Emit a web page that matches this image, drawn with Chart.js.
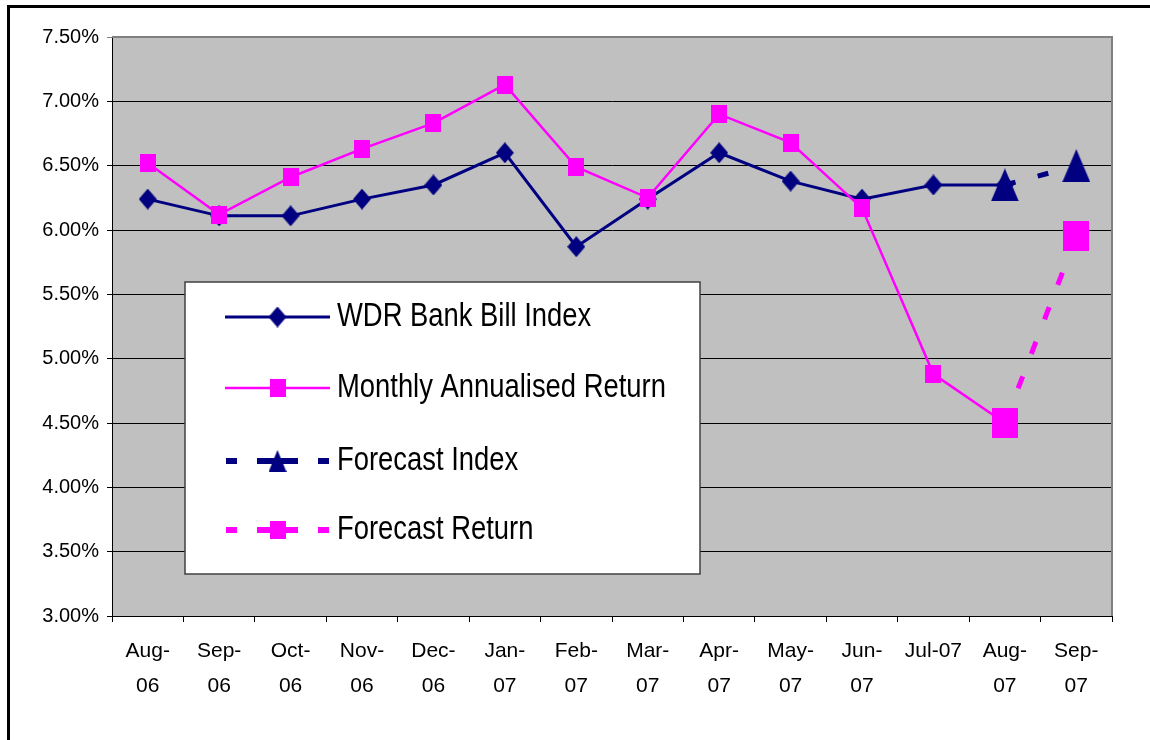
<!DOCTYPE html>
<html>
<head>
<meta charset="utf-8">
<script src="https://cdn.jsdelivr.net/npm/chart.js@4.4.1/dist/chart.umd.min.js"></script>
<style>
html,body{margin:0;padding:0;background:#fff;}
canvas{display:block;}
</style>
</head>
<body>
<canvas id="c" width="1150" height="740"></canvas>
<script>
// ---------- data ----------
const categories = ['Aug-06','Sep-06','Oct-06','Nov-06','Dec-06','Jan-07','Feb-07','Mar-07','Apr-07','May-07','Jun-07','Jul-07','Aug-07','Sep-07'];
const tickLabels = [['Aug-','06'],['Sep-','06'],['Oct-','06'],['Nov-','06'],['Dec-','06'],['Jan-','07'],['Feb-','07'],['Mar-','07'],['Apr-','07'],['May-','07'],['Jun-','07'],'Jul-07',['Aug-','07'],['Sep-','07']];
const wdrIndex       = [6.24, 6.11, 6.11, 6.24, 6.35, 6.60, 5.87, 6.24, 6.60, 6.38, 6.24, 6.35, 6.35, null];
const monthlyReturn  = [6.52, 6.12, 6.41, 6.63, 6.83, 7.13, 6.49, 6.25, 6.90, 6.68, 6.17, 4.88, 4.50, null];
const forecastIndex  = [null, null, null, null, null, null, null, null, null, null, null, null, 6.35, 6.50];
const forecastReturn = [null, null, null, null, null, null, null, null, null, null, null, null, 4.50, 5.95];
const seriesNames = ['WDR Bank Bill Index','Monthly Annualised Return','Forecast Index','Forecast Return'];
const yMin = 3.0, yMax = 7.5, yStep = 0.5;

// ---------- fonts ----------
const FAMILY = '"Liberation Sans", Arial, sans-serif';
const Y_SIZE = 20;
const X_SIZE = 21;
const LEG_SIZE = 33;
const LEG_SQUEEZE = 0.83;

// ---------- colours / markers ----------
const NAVY = '#000080', PINK = '#FF00FF';
function marker(shape, w, h, color){
  const c = document.createElement('canvas'); c.width = w; c.height = h;
  const g = c.getContext('2d'); g.fillStyle = color; g.beginPath();
  if (shape === 'diamond'){ g.moveTo(w/2,0); g.lineTo(w,h/2); g.lineTo(w/2,h); g.lineTo(0,h/2); }
  else if (shape === 'square'){ g.rect(0,0,w,h); }
  else { g.moveTo(w/2,0); g.lineTo(w,h); g.lineTo(0,h); }
  g.closePath(); g.fill();
  return c;
}
const mDiamond = marker('diamond', 18, 21, NAVY);
const mSquare = marker('square', 16, 18, PINK);
const mBigSquare = marker('square', 26, 30, PINK);
const mBigTri = marker('triangle', 28, 33, NAVY);
const mLegTri = marker('triangle', 18, 22, NAVY);

// ---------- plugins ----------
const framePlugin = {
  id: 'frame',
  beforeDraw(chart){
    const ctx = chart.ctx, a = chart.chartArea;
    ctx.save();
    ctx.fillStyle = '#fff'; ctx.fillRect(0,0,chart.width,chart.height);
    ctx.fillStyle = '#000';
    ctx.fillRect(7, 5, 3, chart.height);
    ctx.fillRect(7, 5, chart.width, 3);
    ctx.fillStyle = '#C0C0C0';
    ctx.fillRect(a.left, a.top, a.right - a.left, a.bottom - a.top);
    ctx.restore();
  },
  beforeDatasetsDraw(chart){
    const ctx = chart.ctx, a = chart.chartArea;
    ctx.save();
    ctx.strokeStyle = '#808080'; ctx.lineWidth = 2;
    ctx.beginPath();
    ctx.moveTo(a.left, a.top); ctx.lineTo(a.right, a.top); ctx.lineTo(a.right, a.bottom);
    ctx.stroke();
    ctx.restore();
  }
};

const legendPlugin = {
  id: 'boxLegend',
  afterDraw(chart){
    const ctx = chart.ctx;
    ctx.save();
    ctx.fillStyle = '#fff';
    ctx.fillRect(185, 282, 515, 292);
    ctx.strokeStyle = '#404040'; ctx.lineWidth = 1.5;
    ctx.strokeRect(185, 282, 515, 292);
    const rows = [317, 388, 461, 530];
    const items = [
      {color: NAVY, width: 3, dash: [], img: mDiamond},
      {color: PINK, width: 2.5, dash: [], img: mSquare},
      {color: NAVY, width: 6, dash: [11,20,41,20,11], img: mLegTri},
      {color: PINK, width: 6, dash: [11,20,41,20,11], img: mSquare}
    ];
    items.forEach((it, i) => {
      const y = rows[i];
      ctx.strokeStyle = it.color; ctx.lineWidth = it.width; ctx.lineCap = 'butt';
      ctx.setLineDash(it.dash);
      ctx.beginPath(); ctx.moveTo(it.dash.length ? 226 : 225, y); ctx.lineTo(it.dash.length ? 329 : 330, y); ctx.stroke();
      ctx.setLineDash([]);
      ctx.drawImage(it.img, 277.5 - it.img.width/2, y - it.img.height/2);
      ctx.save();
      ctx.translate(337, y + 9);
      ctx.scale(LEG_SQUEEZE, 1);
      ctx.fillStyle = '#000';
      ctx.font = LEG_SIZE + 'px ' + FAMILY;
      ctx.textBaseline = 'alphabetic'; ctx.textAlign = 'left';
      ctx.fillText(seriesNames[i], 0, 0);
      ctx.restore();
    });
    ctx.restore();
  }
};

// ---------- chart ----------
new Chart(document.getElementById('c'), {
  type: 'line',
  data: {
    labels: categories,
    datasets: [
      {label: seriesNames[0], data: wdrIndex, borderColor: NAVY, backgroundColor: NAVY, borderWidth: 3,
       pointStyle: mDiamond, pointRadius: 10, order: 4, tension: 0},
      {label: seriesNames[1], data: monthlyReturn, borderColor: PINK, backgroundColor: PINK, borderWidth: 2.5,
       pointStyle: mSquare, pointRadius: 10, order: 3, tension: 0},
      {label: seriesNames[2], data: forecastIndex, borderColor: NAVY, backgroundColor: NAVY, borderWidth: 5,
       borderDash: [11,23], borderCapStyle: 'butt', pointStyle: mBigTri, pointRadius: 16, order: 2, tension: 0},
      {label: seriesNames[3], data: forecastReturn, borderColor: PINK, backgroundColor: PINK, borderWidth: 5,
       borderDash: [13,24], borderCapStyle: 'butt', pointStyle: mBigSquare, pointRadius: 16, order: 1, tension: 0}
    ]
  },
  options: {
    responsive: false,
    animation: false,
    devicePixelRatio: 1,
    layout: {padding: {left: 0, top: 37, right: 38, bottom: 0}},
    plugins: {legend: {display: false}, title: {display: false}, tooltip: {enabled: false}},
    events: [],
    scales: {
      x: {
        type: 'category',
        offset: true,
        grid: {offset: true, drawOnChartArea: false, drawTicks: true, tickLength: 6, color: '#000', lineWidth: 1},
        border: {display: true, color: '#000', width: 1},
        ticks: {
          autoSkip: false, maxRotation: 0, minRotation: 0, padding: 12, color: '#000',
          font: {family: FAMILY, size: X_SIZE, lineHeight: 35/X_SIZE},
          callback: (v, i) => tickLabels[i]
        },
        afterFit: s => { s.height = 124; }
      },
      y: {
        min: yMin, max: yMax,
        grid: {drawTicks: true, tickLength: 5, lineWidth: 1,
               color: c => (c.tick && c.tick.value === yMax) ? '#808080' : '#000'},
        border: {display: true, color: '#000', width: 1},
        ticks: {
          stepSize: yStep, padding: 8, color: '#000',
          font: {family: FAMILY, size: Y_SIZE},
          callback: v => Number(v).toFixed(2) + '%'
        },
        afterFit: s => { s.width = 112; }
      }
    }
  },
  plugins: [framePlugin, legendPlugin]
});
</script>
</body>
</html>
